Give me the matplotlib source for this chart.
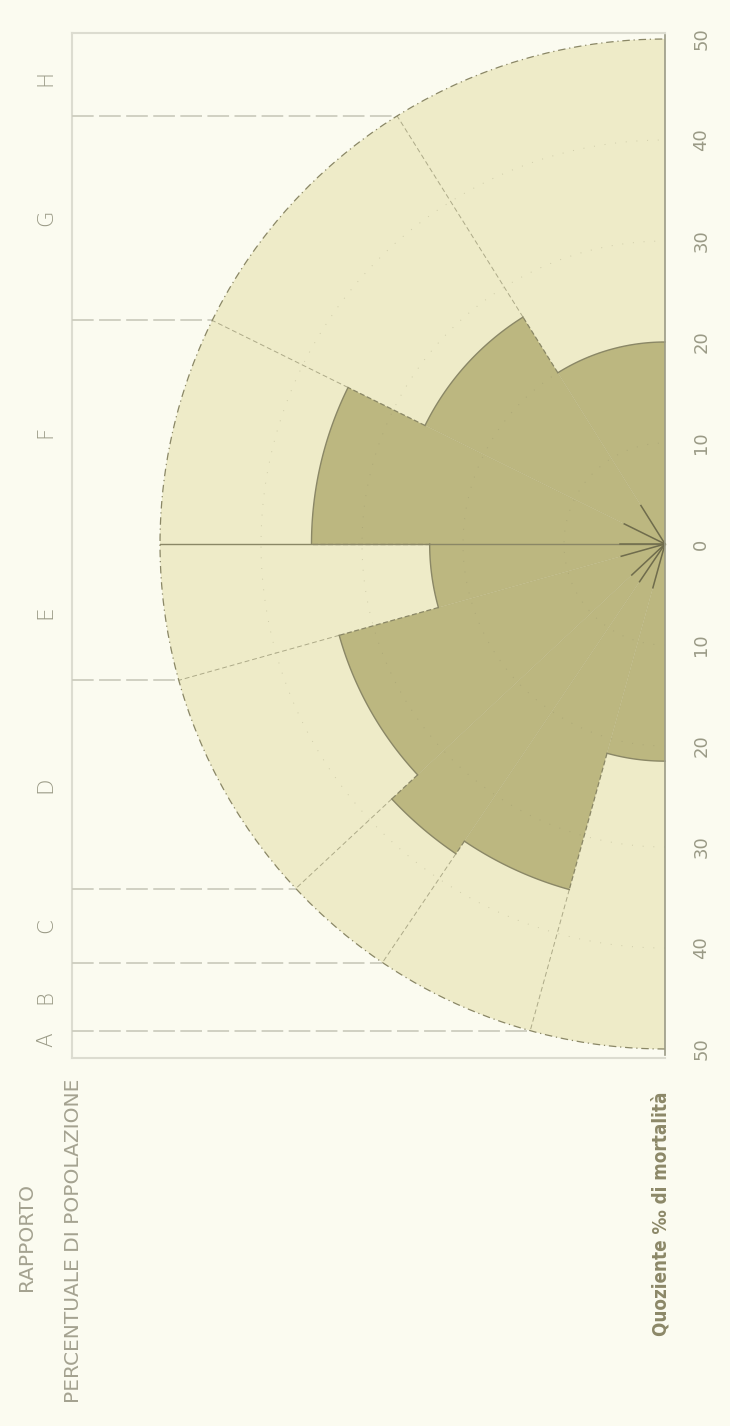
import numpy as np
import matplotlib
matplotlib.use('Agg')
import matplotlib.pyplot as plt
from matplotlib.patches import Wedge

# Gruppi, rapporto percentuale di popolazione e quoziente di mortalita (per mille)
gruppi = ['A', 'B', 'C', 'D', 'E', 'F', 'G', 'H']
popolazione = [8.6, 10.3, 7.2, 15.2, 8.7, 14.6, 17.6, 17.8]
mortalita = [21.5, 35.5, 37.0, 33.5, 23.3, 35.0, 26.5, 20.0]
scala = [-50, -40, -30, -20, -10, 0, 10, 20, 30, 40, 50]

R = 50          # outer circle of the scale
S = 10.1        # pixels per unit
CX, CY = 665, 544   # centre of the half circle in pixels

BG = '#fbfbf0'
PALE = '#eeebc8'
DARK = '#bcb780'
LINE = '#8a8766'
GREY = '#9a9a86'
FRAME = '#dcdcd0'

fig = plt.figure(figsize=(7.3, 14.26), dpi=100, facecolor=BG)
ax = fig.add_axes([0, 0, 1, 1])
ax.set_facecolor(BG)
# radial direction runs right-to-left, the diameter runs top-to-bottom
ax.set_xlim(CX / S, (CX - 730) / S)
ax.set_ylim((CY - 1426) / S, CY / S)
ax.axis('off')

# angular edges: A starts at the bottom of the diameter, H ends at the top
edges = -90 + 1.8 * np.concatenate([[0], np.cumsum(popolazione)])

# light half circle
ax.add_patch(Wedge((0, 0), R, -90, 90, fc=PALE, ec='none', zorder=1))

# dark sectors: mortality
for i, m in enumerate(mortalita):
    ax.add_patch(Wedge((0, 0), m, edges[i], edges[i + 1], fc=DARK, ec='none', zorder=2))
    t = np.radians(np.linspace(edges[i], edges[i + 1], 80))
    ax.plot(m * np.cos(t), m * np.sin(t), color=LINE, lw=1.0, zorder=4)

# dotted reference circles
t = np.radians(np.linspace(-90, 90, 400))
for r in [10, 20, 30, 40]:
    ax.plot(r * np.cos(t), r * np.sin(t), color=LINE, lw=0.7, alpha=0.3,
            ls=(0, (1, 10)), zorder=3)
ax.plot(R * np.cos(t), R * np.sin(t), color=LINE, lw=0.9, ls=(0, (6, 3, 1, 3)), zorder=4)

# sector boundaries
for k in range(1, len(edges) - 1):
    a = np.radians(edges[k])
    m_in = min(mortalita[k - 1], mortalita[k])
    m_out = max(mortalita[k - 1], mortalita[k])
    ca, sa = np.cos(a), np.sin(a)
    # step between two dark sectors
    ax.plot([m_in * ca, m_out * ca], [m_in * sa, m_out * sa],
            color=LINE, lw=0.9, ls=(0, (4, 2)), zorder=4)
    # radius through the light ring
    ax.plot([m_out * ca, R * ca], [m_out * sa, R * sa],
            color=LINE, lw=0.7, alpha=0.65, ls=(0, (5, 3)), zorder=3)
    # faint inside the dark area, strong near the centre
    ax.plot([0, m_in * ca], [0, m_in * sa], color=LINE, lw=0.5, alpha=0.12, zorder=3)
    ax.plot([0, 4.5 * ca], [0, 4.5 * sa], color='#6f6c4c', lw=1.1, zorder=5)

# central radius
ax.plot([0, R], [0, 0], color=LINE, lw=1.0, zorder=4)

# diameter with the mortality scale
ax.plot([0, 0], [-50.6, 50.4], color=GREY, lw=1.2, zorder=5)
for v in scala:
    ax.text(-3.6, v, str(abs(v)), rotation=90, ha='center', va='center',
            fontsize=13, color=GREY)

# frame of the population scale
FX = 58.7
ax.plot([FX, FX], [-50.9, 50.6], color=FRAME, lw=1.5, zorder=1)
ax.plot([0, FX], [50.6, 50.6], color=FRAME, lw=1.5, zorder=1)
ax.plot([0, FX], [-50.9, -50.9], color=FRAME, lw=1.5, zorder=1)

# projections of the boundaries onto the population scale
proj = R * np.sin(np.radians(edges))
for k in range(1, len(edges) - 1):
    if abs(proj[k]) < 1:
        continue
    xb = R * np.cos(np.radians(edges[k]))
    ax.plot([FX, xb], [proj[k], proj[k]], color='#cdcdbf', lw=1.3,
            ls=(0, (12, 3)), zorder=1)

for i, g in enumerate(gruppi):
    ax.text(61.3, (proj[i] + proj[i + 1]) / 2, g, rotation=90, ha='center', va='center',
            fontsize=15.5, color=GREY, family='DejaVu Sans', fontweight='light')

# titles
ax.text(63.2, -68.6, 'RAPPORTO', rotation=90, ha='center', va='center',
        fontsize=14.5, color='#a4a290')
ax.text(58.6, -69.0, 'PERCENTUALE DI POPOLAZIONE', rotation=90, ha='center', va='center',
        fontsize=14.5, color='#a4a290')
ax.text(0.4, -66.3, 'Quoziente ‰ di mortalità', rotation=90, ha='center', va='center',
        fontsize=13.5, color='#8c8868', fontweight='bold', fontstretch='condensed')

fig.savefig('out.png', dpi=100, facecolor=BG)
